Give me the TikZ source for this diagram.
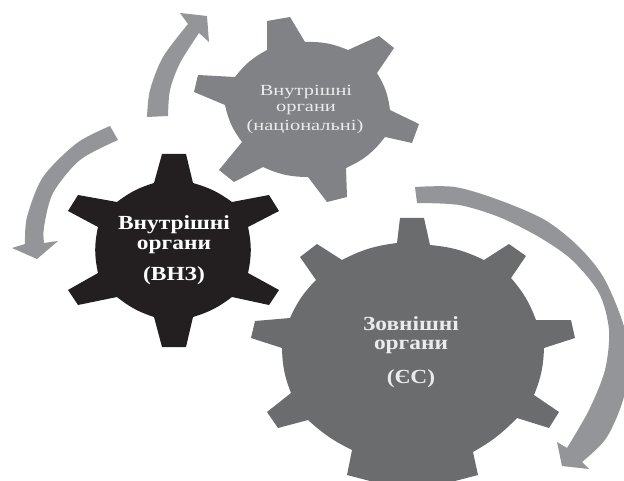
\documentclass[tikz,border=0pt]{standalone}
\usepackage{fontspec}
\setmainfont{Liberation Serif}
\newfontfamily\widefont[FakeStretch=1.17]{Liberation Serif}
\newfontfamily\widerfont[FakeStretch=1.32]{Liberation Serif}
\definecolor{gearblack}{HTML}{231F20}
\definecolor{gearmid}{HTML}{808285}
\definecolor{geardark}{HTML}{6B6C6E}
\definecolor{arrowgrey}{HTML}{939598}
\tikzset{
  bigtext/.style={text=white,font=\widefont\fontsize{20}{22}\selectfont\bfseries,inner sep=0pt,anchor=center},
  smalltext/.style={text=white!92!black,font=\widerfont\fontsize{15.5}{17}\selectfont,inner sep=0pt,anchor=center},
  rim/.style={bend left=#1}
}
\begin{document}
\begin{tikzpicture}[x=1pt,y=-1pt]
\useasboundingbox (0,0) rectangle (624,481);
\clip (0,0) rectangle (624,481);
% arrows
\fill[arrowgrey] plot[smooth] coordinates {(147,117) (150,90) (163,57) (188,24)}
  -- (180,13) -- (207,16) -- (209,42) -- (199,33)
  -- plot[smooth] coordinates {(199,33) (180,63) (170,90) (168,116)} -- cycle;
\fill[arrowgrey] plot[smooth] coordinates {(110,126) (77,143) (43,177) (27,217) (25,244)}
  -- (12,248) -- (37,259) -- (58,241) -- (44,243)
  -- plot[smooth] coordinates {(44,243) (44,227) (53,193) (80,160) (118,140)} -- cycle;
\fill[arrowgrey] plot[smooth] coordinates {(415,187) (455,187) (499,200) (545,220) (579,247) (605,280) (626,335) (625,392) (607,437) (582,462)}
  -- (589,469) -- (562,466) -- (557,442) -- (567,448)
  -- plot[smooth] coordinates {(567,448) (589,410) (605,370) (609,330) (599,293) (572,260) (539,237) (499,217) (459,205) (417,203)} -- cycle;
% national gear
\fill[gearmid] (267,21) -- (290,17) -- (305,42) to[rim=12] (348,50)
  -- (379,36) -- (394,48) -- (377,73) to[rim=12] (390,110)
  -- (419,124) -- (412,143) -- (385,137) to[rim=14] (346,168)
  -- (347,197) -- (327,202) -- (308,177) to[rim=12] (263,167)
  -- (234,182) -- (219,170) -- (242,142) to[rim=12] (225,105)
  -- (194,92) -- (198,75) -- (235,77) to[rim=12] (267,50) -- cycle;
% black gear
\fill[gearblack] (162,154) -- (186,154) -- (193,183) to[rim=10] (232,202)
  -- (269,195) -- (279,211) -- (248,227) to[rim=12] (248,273)
  -- (279,290) -- (269,305) -- (232,297) to[rim=10] (193,317)
  -- (186,347) -- (162,347) -- (154,317) to[rim=10] (117,297)
  -- (78,305) -- (68,290) -- (98,273) to[rim=12] (98,227)
  -- (68,211) -- (78,195) -- (117,202) to[rim=10] (154,183) -- cycle;
% large gear
\fill[geardark] (400,218) -- (424,218) -- (430,245) to[rim=10] (484,260)
  -- (509,244) -- (526,256) -- (511,278) to[rim=10] (536,320)
  -- (571,320) -- (575,338) -- (544,348) to[rim=10] (534,395)
  -- (559,412) -- (549,428) -- (517,418) to[rim=8] (473,452)
  -- (478,475) -- (455,481) -- (370,481) -- (347,475) -- (352,450) to[rim=8] (308,420)
  -- (278,428) -- (267,412) -- (291,393) to[rim=10] (282,348)
  -- (251,338) -- (255,321) -- (290,318) to[rim=10] (316,280)
  -- (300,257) -- (317,244) -- (342,260) to[rim=10] (397,243) -- cycle;
% labels
\node[smalltext] (n1) at (306,92) {Внутрішні};
\node[smalltext] (n2) at (306,109) {органи};
\node[smalltext] (n3) at (305,127) {(національні)};
\node[bigtext] (b1) at (174,225) {Внутрішні};
\node[bigtext] (b2) at (174,247) {органи};
\node[bigtext] (b3) at (174,276) {(ВНЗ)};
\node[bigtext,text=white!92!black] (e1) at (411,324) {Зовнішні};
\node[bigtext,text=white!92!black] (e2) at (411,347) {органи};
\node[bigtext,text=white!92!black] (e3) at (411,379) {(ЄС)};
\end{tikzpicture}
\end{document}
